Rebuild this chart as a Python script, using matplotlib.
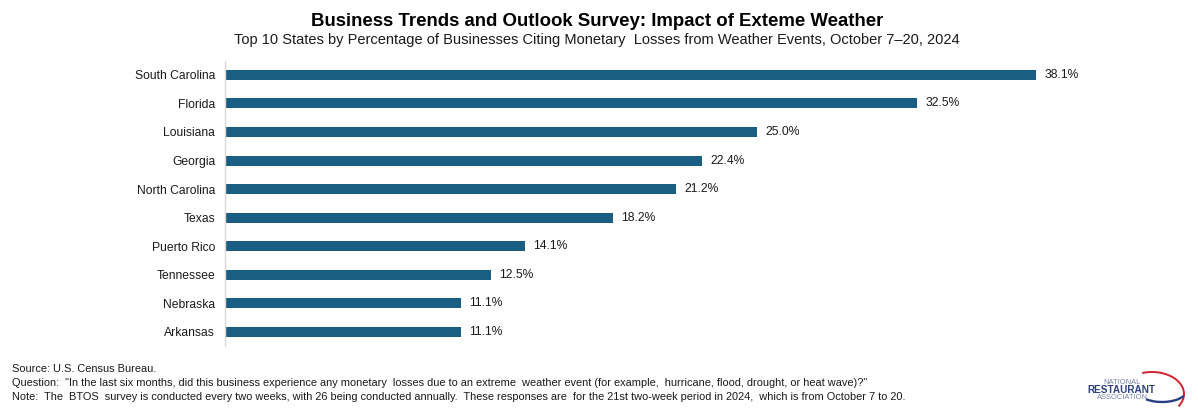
import matplotlib.pyplot as plt
from matplotlib.patches import Arc

states = ["South Carolina", "Florida", "Louisiana", "Georgia", "North Carolina",
          "Texas", "Puerto Rico", "Tennessee", "Nebraska", "Arkansas"]
pct = [38.1, 32.5, 25.0, 22.4, 21.2, 18.2, 14.1, 12.5, 11.1, 11.1]

title = "Business Trends and Outlook Survey: Impact of Exteme Weather"
subtitle = ("Top 10 States by Percentage of Businesses Citing Monetary  Losses from "
            "Weather Events, October 7\u201320, 2024")
notes = [
    "Source: U.S. Census Bureau.",
    "Question:  \"In the last six months, did this business experience any monetary  losses due to an "
    "extreme  weather event (for example,  hurricane, flood, drought, or heat wave)?\"",
    "Note:  The  BTOS  survey is conducted every two weeks, with 26 being conducted annually.  These "
    "responses are  for the 21st two-week period in 2024,  which is from October 7 to 20.",
]

bar_color = "#1B5E83"
text_color = "#1A1A1A"
plt.rcParams["font.family"] = ["Liberation Sans", "DejaVu Sans"]

fig = plt.figure(figsize=(11.98, 4.15), dpi=100)
ax = fig.add_axes([0.1878, 0.166, 0.80, 0.688])

ypos = list(range(len(states)))
ax.barh(ypos, pct, height=0.35, color=bar_color)
for y, v in zip(ypos, pct):
    ax.text(v + 0.38, y, f"{v:.1f}%", va="center", ha="left", fontsize=8.7, color=text_color)

ax.set_yticks(ypos)
ax.set_yticklabels(states, fontsize=8.7, color=text_color)
ax.set_ylim(len(states) - 0.5, -0.5)
ax.set_xlim(0, 45)
ax.set_xticks([])
ax.tick_params(axis="y", length=0, pad=7)
for s in ["top", "right", "bottom"]:
    ax.spines[s].set_visible(False)
ax.spines["left"].set_color("#D9D9D9")
ax.spines["left"].set_linewidth(1.0)

fig.text(0.4985, 0.948, title, ha="center", va="center", fontsize=13.4,
         fontweight="bold", color="black")
fig.text(0.4985, 0.904, subtitle, ha="center", va="center", fontsize=10.5,
         color=text_color)

for i, line in enumerate(notes):
    fig.text(0.010, 0.111 - i * 0.034, line, ha="left", va="center", fontsize=7.9,
             color=text_color)

# logo, drawn in pixel coordinates (y axis points down)
lax = fig.add_axes([0, 0, 1, 1], zorder=-1)
lax.set_xlim(0, 1198)
lax.set_ylim(415, 0)
lax.axis("off")
lax.text(1122, 382.5, "NATIONAL", ha="center", va="center", fontsize=5.4, color="#7482A8")
lax.text(1121, 390, "RESTAURANT", ha="center", va="center", fontsize=7.2,
         fontweight="bold", color="#2B3F86")
lax.text(1122, 397.5, "ASSOCIATION", ha="center", va="center", fontsize=5.4, color="#7482A8")
lax.add_patch(Arc((1152, 394), 64, 44, theta1=-115, theta2=25, color="#D3202F", lw=1.4))
lax.add_patch(Arc((1162, 390), 50, 24, theta1=15, theta2=150, color="#2B3F86", lw=1.7))

fig.savefig("out.png", dpi=100)
